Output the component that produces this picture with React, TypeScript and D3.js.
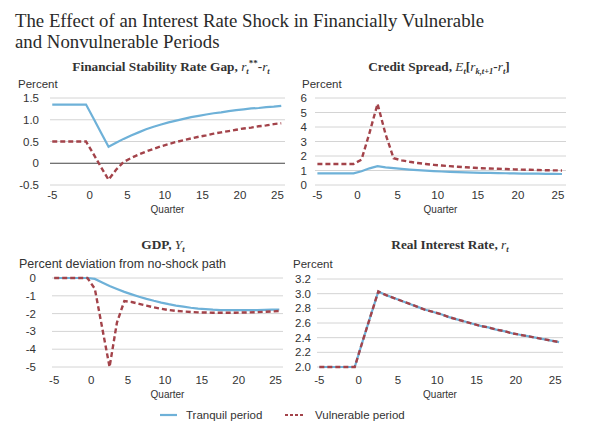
import React from "react";
import * as d3 from "d3";

const quarters = [-5, -0.5, 0.5, 1.5, 2.5, 3.5, 4.5, 5.5, 6.5, 7.5, 8.5, 9.5, 10.5, 11.5, 12.5, 13.5, 14.5, 15.5, 16.5, 17.5, 18.5, 19.5, 20.5, 21.5, 22.5, 23.5, 24.5, 25.5];
const xTicks = [-5, 0, 5, 10, 15, 20, 25];

const gapTranquil = [1.35, 1.35, 1.03, 0.70, 0.38, 0.47, 0.56, 0.64, 0.71, 0.78, 0.84, 0.89, 0.94, 0.98, 1.02, 1.06, 1.09, 1.12, 1.15, 1.17, 1.20, 1.22, 1.24, 1.26, 1.27, 1.29, 1.30, 1.32];
const gapVulnerable = [0.5, 0.5, 0.21, -0.09, -0.38, -0.15, 0.03, 0.12, 0.20, 0.27, 0.33, 0.39, 0.44, 0.49, 0.53, 0.57, 0.61, 0.64, 0.68, 0.71, 0.74, 0.77, 0.80, 0.82, 0.85, 0.87, 0.90, 0.92];
const gapTicks = [1.5, 1.0, 0.5, 0, -0.5];
const gapTickLabels = ["1.5", "1.0", "0.5", "0", "-0.5"];

const spreadTranquil = [0.8, 0.8, 0.95, 1.15, 1.3, 1.22, 1.16, 1.11, 1.06, 1.02, 0.99, 0.96, 0.93, 0.91, 0.89, 0.87, 0.85, 0.84, 0.83, 0.82, 0.81, 0.80, 0.79, 0.78, 0.78, 0.77, 0.77, 0.76];
const spreadVulnerable = [1.45, 1.45, 1.75, 3.6, 5.6, 3.5, 1.85, 1.7, 1.6, 1.52, 1.45, 1.39, 1.34, 1.3, 1.26, 1.22, 1.19, 1.16, 1.14, 1.12, 1.1, 1.08, 1.06, 1.05, 1.03, 1.02, 1.01, 1.0];
const spreadTicks = [6, 5, 4, 3, 2, 1, 0];
const spreadTickLabels = ["6", "5", "4", "3", "2", "1", "0"];

const gdpTranquil = [0, 0, -0.05, -0.25, -0.45, -0.62, -0.78, -0.92, -1.05, -1.17, -1.28, -1.38, -1.47, -1.55, -1.61, -1.67, -1.72, -1.75, -1.78, -1.80, -1.81, -1.81, -1.81, -1.80, -1.80, -1.79, -1.78, -1.77];
const gdpVulnerable = [0, 0, -0.6, -2.8, -5.0, -2.5, -1.3, -1.35, -1.45, -1.55, -1.65, -1.73, -1.8, -1.85, -1.88, -1.91, -1.93, -1.94, -1.95, -1.95, -1.95, -1.95, -1.94, -1.93, -1.92, -1.9, -1.88, -1.85];
const gdpTicks = [0, -1, -2, -3, -4, -5];
const gdpTickLabels = ["0", "-1", "-2", "-3", "-4", "-5"];

const rateTranquil = [2.0, 2.0, 2.35, 2.69, 3.03, 2.98, 2.94, 2.9, 2.86, 2.82, 2.78, 2.75, 2.72, 2.68, 2.65, 2.62, 2.59, 2.56, 2.54, 2.51, 2.49, 2.46, 2.44, 2.42, 2.4, 2.38, 2.36, 2.34];
const rateVulnerable = [2.0, 2.0, 2.35, 2.69, 3.03, 2.98, 2.94, 2.9, 2.86, 2.82, 2.78, 2.75, 2.72, 2.68, 2.65, 2.62, 2.59, 2.56, 2.54, 2.51, 2.49, 2.46, 2.44, 2.42, 2.4, 2.38, 2.36, 2.34];
const rateTicks = [3.2, 3.0, 2.8, 2.6, 2.4, 2.2, 2.0];
const rateTickLabels = ["3.2", "3.0", "2.8", "2.6", "2.4", "2.2", "2.0"];

const legendLabels = ["Tranquil period", "Vulnerable period"];

const BLUE = "#6eb1d8";
const RED = "#a3434a";
const TEXT = "#333";
const SANS = "'Liberation Sans', Arial, sans-serif";
const SERIF = "'Liberation Serif', 'Times New Roman', serif";

type PanelProps = {
  x0: number; x1: number; yTop: number; yBot: number;
  domain: [number, number];
  ticks: number[]; tickLabels: string[];
  tickX: number;
  tranquil: number[]; vulnerable: number[];
  title: React.ReactNode; titleX: number; titleY: number;
  unit: string; unitX: number; unitY: number; unitSize?: number;
  xLabelY: number; quarterY: number;
  zeroLine?: boolean;
};

function Panel(p: PanelProps) {
  const x = d3.scaleLinear().domain([-5.3, 26]).range([p.x0, p.x1]);
  const y = d3.scaleLinear().domain(p.domain).range([p.yBot, p.yTop]);
  const line = d3.line<number>().x((_, i) => x(quarters[i])).y((d) => y(d));
  return (
    <g>
      <text x={p.titleX} y={p.titleY} textAnchor="middle" fontFamily={SERIF} fontWeight="bold" fontSize={13.3} fill={TEXT}>
        {p.title}
      </text>
      <text x={p.unitX} y={p.unitY} fontFamily={SANS} fontSize={p.unitSize || 11.5} fill={TEXT}>{p.unit}</text>
      {p.ticks.map((t, i) => (
        <g key={i}>
          <line x1={p.x0} x2={p.x1} y1={y(t)} y2={y(t)}
            stroke={p.zeroLine && t === 0 ? "#444" : "#d4d4d4"} strokeWidth={p.zeroLine && t === 0 ? 1.2 : 1} />
          <text x={p.tickX} y={y(t) + 4} textAnchor="end" fontFamily={SANS} fontSize={11.5} fill={TEXT}>{p.tickLabels[i]}</text>
        </g>
      ))}
      {xTicks.map((t) => (
        <text key={t} x={x(t)} y={p.xLabelY} textAnchor="middle" fontFamily={SANS} fontSize={11.5} fill={TEXT}>{t}</text>
      ))}
      <text x={(p.x0 + p.x1) / 2} y={p.quarterY} textAnchor="middle" fontFamily={SANS} fontSize={10} fill={TEXT}>Quarter</text>
      <path d={line(p.tranquil) || ""} fill="none" stroke={BLUE} strokeWidth={2.2} />
      <path d={line(p.vulnerable) || ""} fill="none" stroke={RED} strokeWidth={2.4} strokeDasharray="5,3" />
    </g>
  );
}

const sub = (s: string) => <tspan fontSize={8.5} dy={3} fontStyle="italic">{s}</tspan>;

export default function App() {
  return (
    <svg width={603} height={429} style={{ position: "absolute", left: 0, top: 0, background: "#fff" }}>
      <text x={15} y={27} fontFamily={SERIF} fontSize={18.8} fill="#2a2a2a">The Effect of an Interest Rate Shock in Financially Vulnerable</text>
      <text x={15} y={48} fontFamily={SERIF} fontSize={18.8} fill="#2a2a2a">and Nonvulnerable Periods</text>

      <Panel x0={50} x1={285} yTop={98} yBot={185} domain={[-0.5, 1.5]}
        ticks={gapTicks} tickLabels={gapTickLabels} tickX={39}
        tranquil={gapTranquil} vulnerable={gapVulnerable}
        title={<>Financial Stability Rate Gap, <tspan fontStyle="italic" fontWeight="normal">r</tspan><tspan fontSize={8.5} dy={3} fontStyle="italic">t</tspan><tspan dy={-8} fontSize={9}>**</tspan><tspan dy={5}>-</tspan><tspan fontStyle="italic" fontWeight="normal">r</tspan>{sub("t")}</>}
        titleX={171} titleY={71}
        unit="Percent" unitX={18} unitY={88} xLabelY={199} quarterY={213} zeroLine />

      <Panel x0={315} x1={566} yTop={98} yBot={185} domain={[0, 6]}
        ticks={spreadTicks} tickLabels={spreadTickLabels} tickX={307}
        tranquil={spreadTranquil} vulnerable={spreadVulnerable}
        title={<>Credit Spread, <tspan fontStyle="italic" fontWeight="normal">E</tspan>{sub("t")}<tspan dy={-3}>[</tspan><tspan fontStyle="italic" fontWeight="normal">r</tspan><tspan fontSize={8.5} dy={3} fontStyle="italic">k,t+1</tspan><tspan dy={-3}>-</tspan><tspan fontStyle="italic" fontWeight="normal">r</tspan>{sub("t")}<tspan dy={-3}>]</tspan></>}
        titleX={439} titleY={71}
        unit="Percent" unitX={302} unitY={88} xLabelY={199} quarterY={213} />

      <Panel x0={52} x1={283} yTop={278} yBot={367} domain={[-5, 0]}
        ticks={gdpTicks} tickLabels={gdpTickLabels} tickX={36}
        tranquil={gdpTranquil} vulnerable={gdpVulnerable}
        title={<>GDP, <tspan fontStyle="italic" fontWeight="normal">Y</tspan>{sub("t")}</>}
        titleX={163} titleY={249}
        unit="Percent deviation from no-shock path" unitX={19} unitY={268} unitSize={12.5} xLabelY={384} quarterY={398} />

      <Panel x0={317} x1={563} yTop={279} yBot={367} domain={[2.0, 3.2]}
        ticks={rateTicks} tickLabels={rateTickLabels} tickX={311}
        tranquil={rateTranquil} vulnerable={rateVulnerable}
        title={<>Real Interest Rate, <tspan fontStyle="italic" fontWeight="normal">r</tspan>{sub("t")}</>}
        titleX={450} titleY={249}
        unit="Percent" unitX={293} unitY={268} xLabelY={384} quarterY={398} />

      <g>
        <line x1={160} x2={177} y1={415} y2={415} stroke={BLUE} strokeWidth={2.2} />
        <text x={186} y={419} fontFamily={SANS} fontSize={11.5} fill={TEXT}>{legendLabels[0]}</text>
        <line x1={285} x2={304} y1={415} y2={415} stroke={RED} strokeWidth={2.2} strokeDasharray="3,2" />
        <text x={315} y={419} fontFamily={SANS} fontSize={11.5} fill={TEXT}>{legendLabels[1]}</text>
      </g>
    </svg>
  );
}
